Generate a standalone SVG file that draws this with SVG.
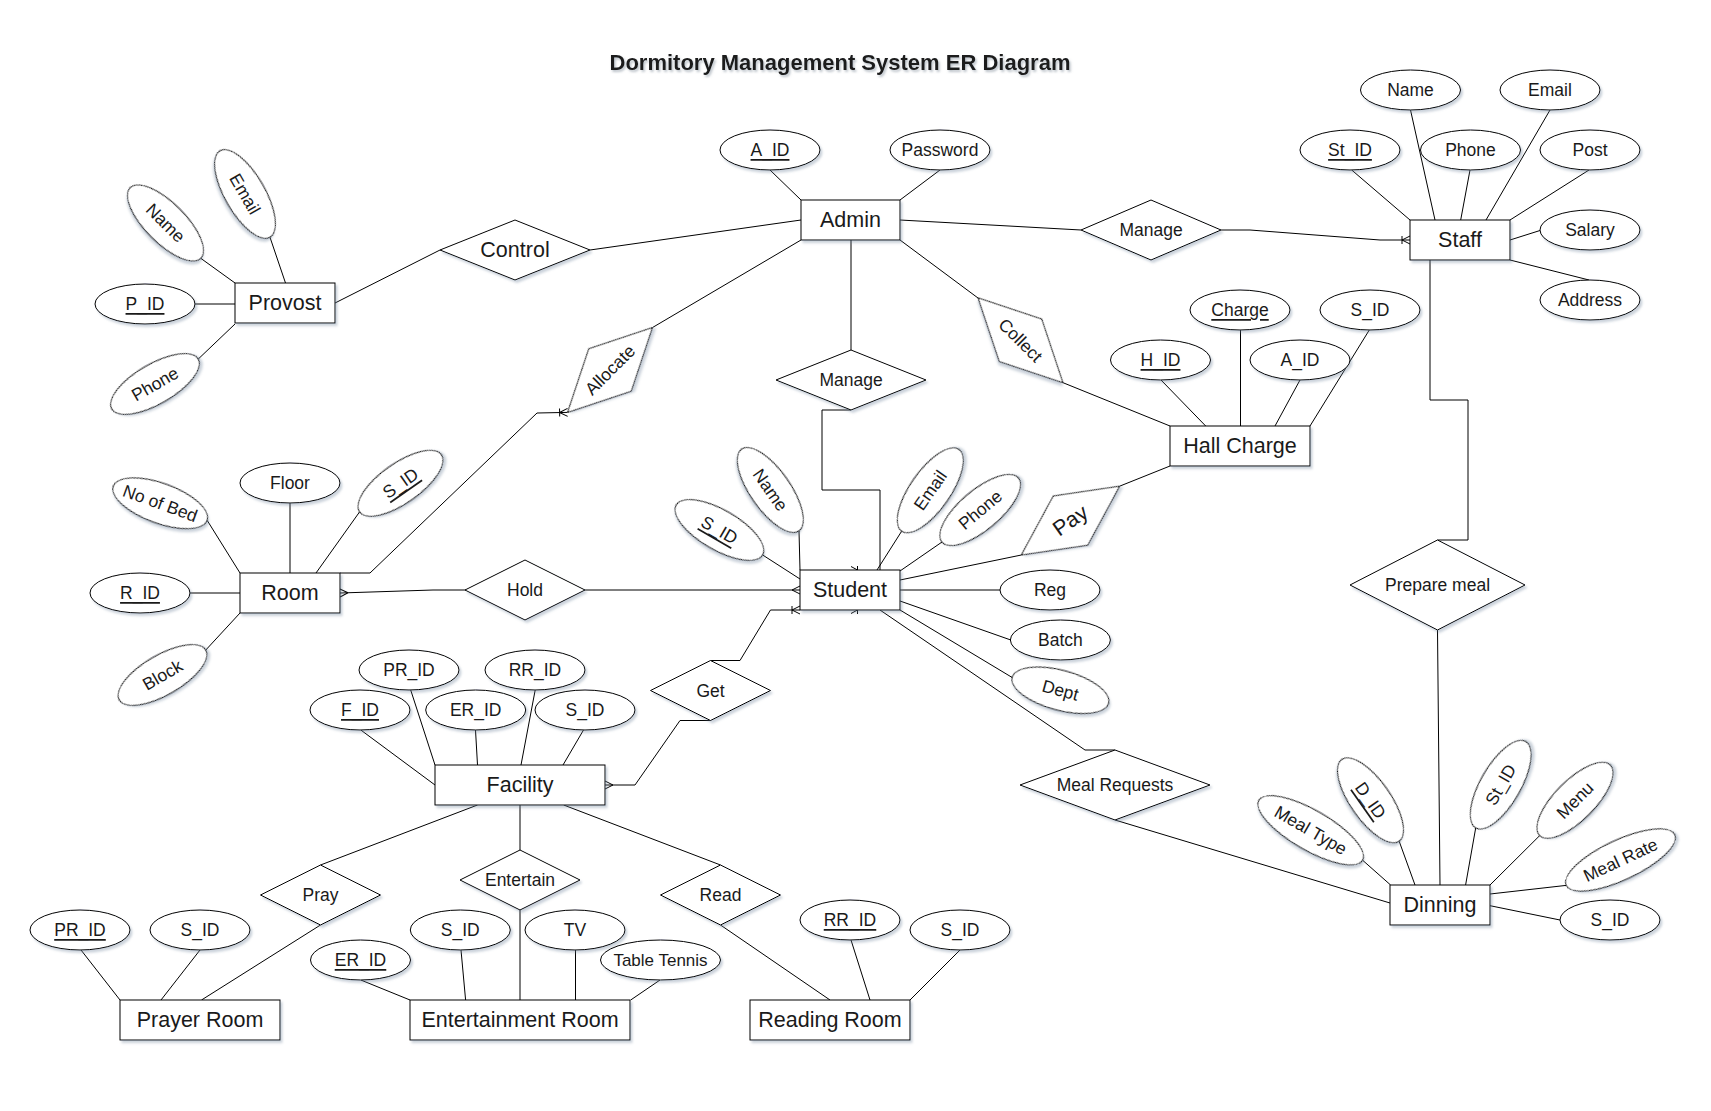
<svg xmlns="http://www.w3.org/2000/svg" width="1711" height="1111" viewBox="0 0 1711 1111">
<defs>
<filter id="sh" x="-20%" y="-20%" width="150%" height="160%"><feDropShadow dx="2" dy="2.5" stdDeviation="1.3" flood-color="#6b7f99" flood-opacity="0.35"/></filter>
<filter id="tsh" x="-5%" y="-30%" width="110%" height="170%"><feDropShadow dx="1.5" dy="2" stdDeviation="1.2" flood-color="#7a8794" flood-opacity="0.5"/></filter>
<marker id="many" markerWidth="12" markerHeight="12" viewBox="-10 -6 12 12" refX="0" refY="0" orient="auto" markerUnits="userSpaceOnUse"><path d="M-8,0 L0,-4 M-8,0 L0,4" fill="none" stroke="#000" stroke-width="1"/></marker>
<marker id="one2many" markerWidth="12" markerHeight="12" viewBox="-10 -6 12 12" refX="0" refY="0" orient="auto" markerUnits="userSpaceOnUse"><path d="M-8,0 L0,-4 M-8,0 L0,4 M-8,-4 L-8,4" fill="none" stroke="#000" stroke-width="1"/></marker>
<style>
.s{fill:#fff;stroke:#000;stroke-width:1;filter:url(#sh)}
.c path,.c line{fill:none;stroke:#000;stroke-width:1}
text{font-family:"Liberation Sans",Arial,Helvetica,sans-serif;fill:#1a1a1a;text-anchor:middle;dominant-baseline:central}
.e{font-size:21.5px}
.a{font-size:17.5px}
.u{text-decoration:underline}
.t{font-size:22px;font-weight:bold;filter:url(#tsh)}
</style>
</defs>
<rect width="1711" height="1111" fill="#fff"/>
<text class="t" x="840" y="62">Dormitory Management System ER Diagram</text>

<g id="connectors" class="c">
<!-- Admin attrs -->
<path d="M770,170 L801,200"/><path d="M940,170 L900,200"/>
<!-- Provost attrs -->
<path d="M200.9,258.4 L235,283"/><path d="M270,237.3 L285.5,283"/><path d="M195,304 L235,304"/><path d="M198.3,359 L235,324"/>
<!-- Staff attrs -->
<path d="M1351.7,170 L1410,220"/><path d="M1410.5,110 L1435,220"/><path d="M1470,170 L1460.7,220"/><path d="M1550,110 L1486,220"/><path d="M1589,170 L1510,220"/><path d="M1540,230.5 L1510,240"/><path d="M1589,280 L1510,260"/>
<!-- Hall Charge attrs -->
<path d="M1161,380 L1205.7,426"/><path d="M1240.5,330 L1240.5,426"/><path d="M1300,380 L1275,426"/><path d="M1369.3,330 L1310,426"/>
<!-- Room attrs -->
<path d="M207.2,520.4 L240,573"/><path d="M290,503 L290,573"/><path d="M359.5,512 L316,573"/><path d="M190,593 L240,593"/><path d="M205.8,650 L240,613"/>
<!-- Student attrs -->
<path d="M762.7,555 L800,579"/><path d="M799,531 L800,570"/><path d="M901.6,531.3 L877,570"/><path d="M942,542 L900,571"/><path d="M900,590 L1000,590"/><path d="M900,601 L1010.8,640"/><path d="M900,610 L1012,677.4"/>
<!-- Facility attrs -->
<path d="M360.8,730 L435,785"/><path d="M410.7,690 L435,765"/><path d="M475.5,730 L477.5,765"/><path d="M535.2,690 L521,765"/><path d="M583.5,730 L563,765"/>
<!-- Prayer Room attrs -->
<path d="M81,950 L120,1000"/><path d="M200,950 L161,1000"/>
<!-- Entertainment Room attrs -->
<path d="M360.8,980 L410,1000"/><path d="M461,950 L465.6,1000"/><path d="M575.5,950 L575.5,1000"/><path d="M660,980 L630.7,1000"/>
<!-- Reading Room attrs -->
<path d="M851,940 L870,1000"/><path d="M960,950 L910,1000"/>
<!-- Dinning attrs -->
<path d="M1362.7,860.3 L1390.6,885"/><path d="M1399.2,841.3 L1415,885"/><path d="M1475.7,828 L1465.6,885"/><path d="M1539.6,835.7 L1490,885"/><path d="M1566.1,885.4 L1490,894"/><path d="M1560,920 L1490,905.7"/>
<!-- Relationships -->
<path d="M335,303 L440,250"/><path d="M590,250 L801,220"/>
<path d="M900,220 L1081,230"/><path d="M1221,230 L1250,230 L1380,240 L1410,240" marker-end="url(#one2many)"/>
<path d="M801,240 L652.4,327.6"/><path d="M340,573 L370,573 L537,413 L567.6,412.4" marker-end="url(#one2many)"/>
<path d="M851,240 L851,350"/><path d="M851,410 L822,410 L822,490 L880,490 L880,570"/>
<path d="M900,240 L978,298"/><path d="M1063,382.7 L1170,426"/>
<path d="M900,580 L1021.4,555"/><path d="M1119.6,486.2 L1170,466"/>
<path d="M466,590 L433,590 L340,593" marker-end="url(#many)"/><path d="M585,590 L800,590" marker-end="url(#many)"/>
<path d="M710.5,720.5 L680,720.5 L635,785 L605,785" marker-end="url(#many)"/>
<path d="M710.5,660.5 L740,660.5 L770.5,610 L800,610" marker-end="url(#one2many)"/>
<path d="M851,566.5 L857.5,570 L851,573.5 M857.5,566 L857.5,574"/>
<path d="M851,606.5 L857.5,610 L851,613.5 M857.5,606 L857.5,614"/>
<path d="M477.5,805 L320.5,865"/><path d="M320.5,925 L201.5,1000"/>
<path d="M520,805 L520,850"/><path d="M520,910 L520,1000"/>
<path d="M563.7,805 L720.5,865"/><path d="M720.5,925 L830,1000"/>
<path d="M880,610 L1085,750 L1115,750"/><path d="M1115,820 L1390,903"/>
<path d="M1430,260 L1430,400 L1468,400 L1468,540 L1437.5,540"/><path d="M1437.5,630 L1440,885"/>
</g>

<!-- Entities -->
<g id="admin"><rect class="s" x="801" y="200" width="99" height="40"/><text class="e" x="850.5" y="220">Admin</text></g>
<g id="provost"><rect class="s" x="235" y="283" width="100" height="40"/><text class="e" x="285" y="303">Provost</text></g>
<g id="staff"><rect class="s" x="1410" y="220" width="100" height="40"/><text class="e" x="1460" y="240">Staff</text></g>
<g id="hall-charge"><rect class="s" x="1170" y="426" width="140" height="40"/><text class="e" x="1240" y="446">Hall Charge</text></g>
<g id="student"><rect class="s" x="800" y="570" width="100" height="40"/><text class="e" x="850" y="590">Student</text></g>
<g id="room"><rect class="s" x="240" y="573" width="100" height="40"/><text class="e" x="290" y="593">Room</text></g>
<g id="facility"><rect class="s" x="435" y="765" width="170" height="40"/><text class="e" x="520" y="785">Facility</text></g>
<g id="prayer-room"><rect class="s" x="120" y="1000" width="160" height="40"/><text class="e" x="200" y="1020">Prayer Room</text></g>
<g id="entertainment-room"><rect class="s" x="410" y="1000" width="220" height="40"/><text class="e" x="520" y="1020">Entertainment Room</text></g>
<g id="reading-room"><rect class="s" x="750" y="1000" width="160" height="40"/><text class="e" x="830" y="1020">Reading Room</text></g>
<g id="dinning"><rect class="s" x="1390" y="885" width="100" height="40"/><text class="e" x="1440" y="905">Dinning</text></g>

<!-- Relationships -->
<g id="rel-control"><polygon class="s" points="440,250 515,220 590,250 515,280"/><text class="e" x="515" y="250">Control</text></g>
<g id="rel-manage-staff"><polygon class="s" points="1081,230 1151,200 1221,230 1151,260"/><text class="a" x="1151" y="230">Manage</text></g>
<g id="rel-manage-student"><polygon class="s" points="776,380 851,350 926,380 851,410"/><text class="a" x="851" y="380">Manage</text></g>
<g id="rel-collect" transform="translate(1020.5,340.3) rotate(45)"><polygon class="s" points="-60,0 0,-30 60,0 0,30"/><text class="a" x="0" y="0">Collect</text></g>
<g id="rel-allocate" transform="translate(610,370) rotate(-45)"><polygon class="s" points="-60,0 0,-30 60,0 0,30"/><text class="a" x="0" y="0">Allocate</text></g>
<g id="rel-pay" transform="translate(1070.5,520.6) rotate(-35)"><polygon class="s" points="-60,0 0,-30 60,0 0,30"/><text class="e" x="0" y="0">Pay</text></g>
<g id="rel-hold"><polygon class="s" points="465,590 525,560 585,590 525,620"/><text class="a" x="525" y="590">Hold</text></g>
<g id="rel-get"><polygon class="s" points="650.5,690.5 710.5,660.5 770.5,690.5 710.5,720.5"/><text class="a" x="710.5" y="690.5">Get</text></g>
<g id="rel-pray"><polygon class="s" points="260.5,895 320.5,865 380.5,895 320.5,925"/><text class="a" x="320.5" y="895">Pray</text></g>
<g id="rel-entertain"><polygon class="s" points="460,880 520,850 580,880 520,910"/><text class="a" x="520" y="880">Entertain</text></g>
<g id="rel-read"><polygon class="s" points="660.5,895 720.5,865 780.5,895 720.5,925"/><text class="a" x="720.5" y="895">Read</text></g>
<g id="rel-meal-requests"><polygon class="s" points="1020,785 1115,750 1210,785 1115,820"/><text class="a" x="1115" y="785">Meal Requests</text></g>
<g id="rel-prepare-meal"><polygon class="s" points="1350,585 1437.5,540 1525,585 1437.5,630"/><text class="a" x="1437.5" y="585">Prepare meal</text></g>

<!-- Attributes: Admin -->
<g id="admin-a-id"><ellipse class="s" cx="770" cy="150" rx="50" ry="20"/><text class="a u" x="770" y="150">A_ID</text></g>
<g id="admin-password"><ellipse class="s" cx="940" cy="150" rx="50" ry="20"/><text class="a" x="940" y="150">Password</text></g>
<!-- Provost -->
<g id="provost-name" transform="translate(165.5,223) rotate(45)"><ellipse class="s" rx="50" ry="20"/><text class="a">Name</text></g>
<g id="provost-email" transform="translate(245,194) rotate(60)"><ellipse class="s" rx="50" ry="20"/><text class="a">Email</text></g>
<g id="provost-p-id"><ellipse class="s" cx="145" cy="304" rx="50" ry="20"/><text class="a u" x="145" y="304">P_ID</text></g>
<g id="provost-phone" transform="translate(155,384) rotate(-30)"><ellipse class="s" rx="50" ry="20"/><text class="a">Phone</text></g>
<!-- Staff -->
<g id="staff-name"><ellipse class="s" cx="1410.5" cy="90" rx="50" ry="20"/><text class="a" x="1410.5" y="90">Name</text></g>
<g id="staff-email"><ellipse class="s" cx="1550" cy="90" rx="50" ry="20"/><text class="a" x="1550" y="90">Email</text></g>
<g id="staff-st-id"><ellipse class="s" cx="1350" cy="150" rx="50" ry="20"/><text class="a u" x="1350" y="150">St_ID</text></g>
<g id="staff-phone"><ellipse class="s" cx="1470.5" cy="150" rx="50" ry="20"/><text class="a" x="1470.5" y="150">Phone</text></g>
<g id="staff-post"><ellipse class="s" cx="1590" cy="150" rx="50" ry="20"/><text class="a" x="1590" y="150">Post</text></g>
<g id="staff-salary"><ellipse class="s" cx="1590" cy="230" rx="50" ry="20"/><text class="a" x="1590" y="230">Salary</text></g>
<g id="staff-address"><ellipse class="s" cx="1590" cy="300" rx="50" ry="20"/><text class="a" x="1590" y="300">Address</text></g>
<!-- Hall Charge -->
<g id="hc-h-id"><ellipse class="s" cx="1160.5" cy="360" rx="50" ry="20"/><text class="a u" x="1160.5" y="360">H_ID</text></g>
<g id="hc-charge"><ellipse class="s" cx="1240" cy="310" rx="50" ry="20"/><text class="a u" x="1240" y="310">Charge</text></g>
<g id="hc-a-id"><ellipse class="s" cx="1300" cy="360" rx="50" ry="20"/><text class="a" x="1300" y="360">A_ID</text></g>
<g id="hc-s-id"><ellipse class="s" cx="1370" cy="310" rx="50" ry="20"/><text class="a" x="1370" y="310">S_ID</text></g>
<!-- Room -->
<g id="room-no-of-bed" transform="translate(160.2,503.3) rotate(20)"><ellipse class="s" rx="50" ry="20"/><text class="a">No of Bed</text></g>
<g id="room-floor"><ellipse class="s" cx="290" cy="483" rx="50" ry="20"/><text class="a" x="290" y="483">Floor</text></g>
<g id="room-s-id" transform="translate(400.5,483.3) rotate(-35)"><ellipse class="s" rx="50" ry="20"/><text class="a u">S_ID</text></g>
<g id="room-r-id"><ellipse class="s" cx="140" cy="593" rx="50" ry="20"/><text class="a u" x="140" y="593">R_ID</text></g>
<g id="room-block" transform="translate(162.5,675) rotate(-30)"><ellipse class="s" rx="50" ry="20"/><text class="a">Block</text></g>
<!-- Student -->
<g id="student-s-id" transform="translate(719.4,530) rotate(30)"><ellipse class="s" rx="50" ry="20"/><text class="a u">S_ID</text></g>
<g id="student-name" transform="translate(770.3,490) rotate(55)"><ellipse class="s" rx="50" ry="20"/><text class="a">Name</text></g>
<g id="student-email" transform="translate(930.3,490.3) rotate(-55)"><ellipse class="s" rx="50" ry="20"/><text class="a">Email</text></g>
<g id="student-phone" transform="translate(980.2,510) rotate(-40)"><ellipse class="s" rx="50" ry="20"/><text class="a">Phone</text></g>
<g id="student-reg"><ellipse class="s" cx="1050" cy="590" rx="50" ry="20"/><text class="a" x="1050" y="590">Reg</text></g>
<g id="student-batch"><ellipse class="s" cx="1060.4" cy="640" rx="50" ry="20"/><text class="a" x="1060.4" y="640">Batch</text></g>
<g id="student-dept" transform="translate(1060.4,690.3) rotate(15)"><ellipse class="s" rx="50" ry="20"/><text class="a">Dept</text></g>
<!-- Facility -->
<g id="fac-f-id"><ellipse class="s" cx="360" cy="710" rx="50" ry="20"/><text class="a u" x="360" y="710">F_ID</text></g>
<g id="fac-pr-id"><ellipse class="s" cx="409" cy="670" rx="50" ry="20"/><text class="a" x="409" y="670">PR_ID</text></g>
<g id="fac-er-id"><ellipse class="s" cx="475.7" cy="710" rx="50" ry="20"/><text class="a" x="475.7" y="710">ER_ID</text></g>
<g id="fac-rr-id"><ellipse class="s" cx="535" cy="670" rx="50" ry="20"/><text class="a" x="535" y="670">RR_ID</text></g>
<g id="fac-s-id"><ellipse class="s" cx="585" cy="710" rx="50" ry="20"/><text class="a" x="585" y="710">S_ID</text></g>
<!-- Prayer Room -->
<g id="pr-pr-id"><ellipse class="s" cx="80" cy="930" rx="50" ry="20"/><text class="a u" x="80" y="930">PR_ID</text></g>
<g id="pr-s-id"><ellipse class="s" cx="200" cy="930" rx="50" ry="20"/><text class="a" x="200" y="930">S_ID</text></g>
<!-- Entertainment Room -->
<g id="er-er-id"><ellipse class="s" cx="360.5" cy="960" rx="50" ry="20"/><text class="a u" x="360.5" y="960">ER_ID</text></g>
<g id="er-s-id"><ellipse class="s" cx="460.3" cy="930" rx="50" ry="20"/><text class="a" x="460.3" y="930">S_ID</text></g>
<g id="er-tv"><ellipse class="s" cx="575" cy="930" rx="50" ry="20"/><text class="a" x="575" y="930">TV</text></g>
<g id="er-table-tennis"><ellipse class="s" cx="660.5" cy="960" rx="60" ry="20"/><text class="a" x="660.5" y="960" style="font-size:17px">Table Tennis</text></g>
<!-- Reading Room -->
<g id="rr-rr-id"><ellipse class="s" cx="850" cy="920" rx="50" ry="20"/><text class="a u" x="850" y="920">RR_ID</text></g>
<g id="rr-s-id"><ellipse class="s" cx="960" cy="930" rx="50" ry="20"/><text class="a" x="960" y="930">S_ID</text></g>
<!-- Dinning -->
<g id="din-meal-type" transform="translate(1310.7,830.3) rotate(30)"><ellipse class="s" rx="60" ry="20"/><text class="a">Meal Type</text></g>
<g id="din-d-id" transform="translate(1370.5,800.3) rotate(55)"><ellipse class="s" rx="50" ry="20"/><text class="a u">D_ID</text></g>
<g id="din-st-id" transform="translate(1500.7,784.7) rotate(-60)"><ellipse class="s" rx="50" ry="20"/><text class="a">St_ID</text></g>
<g id="din-menu" transform="translate(1575,800.3) rotate(-45)"><ellipse class="s" rx="50" ry="20"/><text class="a">Menu</text></g>
<g id="din-meal-rate" transform="translate(1620.5,860) rotate(-25)"><ellipse class="s" rx="60" ry="20"/><text class="a">Meal Rate</text></g>
<g id="din-s-id"><ellipse class="s" cx="1610" cy="920" rx="50" ry="20"/><text class="a" x="1610" y="920">S_ID</text></g>
</svg>
